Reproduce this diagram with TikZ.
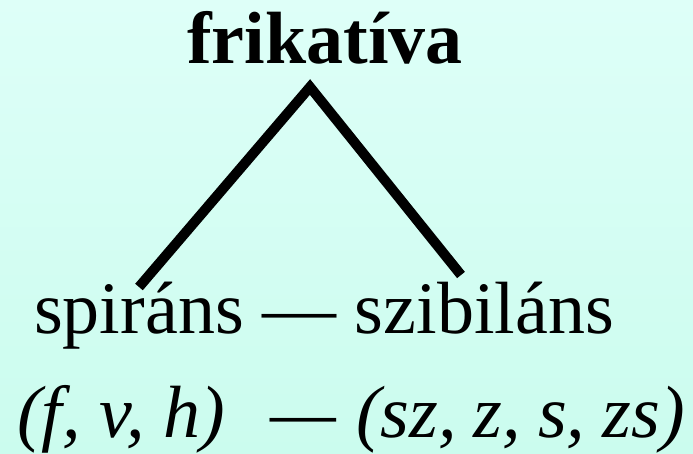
\documentclass[tikz,border=0pt]{standalone}
\usepackage{fontspec}
\setmainfont{Liberation Serif}
\usetikzlibrary{positioning}

\begin{document}
\begin{tikzpicture}[
    x=1pt, y=-1pt,
    word/.style={anchor=base, inner sep=0pt, font=\fontsize{74}{80}\selectfont},
    branch/.style={line width=10pt, line cap=butt, line join=miter}
]

% Background
\shade[top color={rgb,255:red,222;green,255;blue,248}, bottom color={rgb,255:red,203;green,252;blue,238}]
    (0,0) rectangle (693,453);
\useasboundingbox (0,0) rectangle (693,453);

% Words
\node[word, font=\fontsize{74}{80}\selectfont\bfseries] (fric) at (325,63) {frikatíva};
\node[word] (spir) at (324,333) {spiráns --- szibiláns};
\node[word, anchor=base west, font=\fontsize{74}{80}\selectfont\itshape] (examples) at (17,437)
    {(f, v, h)\hspace{45pt}---\hspace{20pt}(sz,\hspace{17pt}z,\hspace{17pt}s,\hspace{17pt}zs)};

% Branches
\coordinate (apex) at (310,87);
\coordinate (left) at (139,287);
\coordinate (right) at (461,275);
\draw[branch] (left) -- (apex) -- (right);

\end{tikzpicture}
\end{document}
